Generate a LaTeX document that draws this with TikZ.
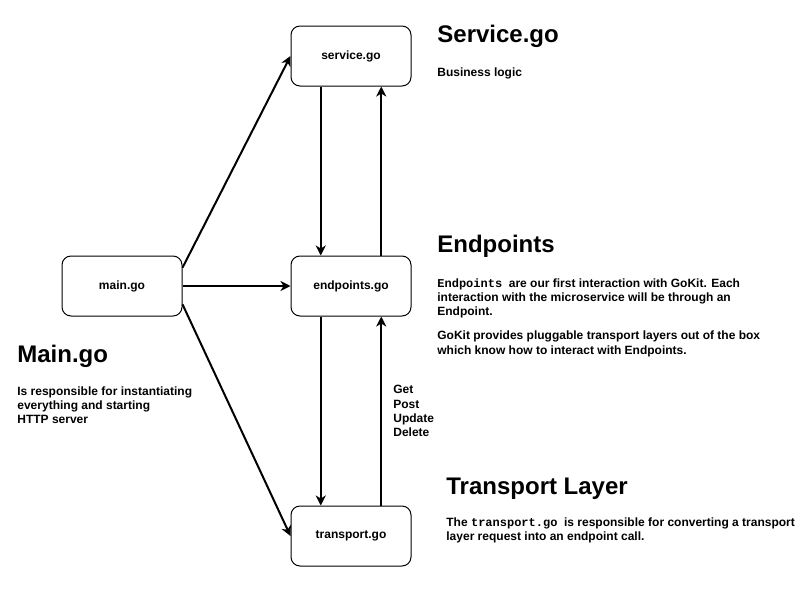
\documentclass[tikz,border=0pt]{standalone}
\usepackage{fontspec}
\setmainfont{Liberation Sans}
\setmonofont{Liberation Mono}
\usepackage{tikz}
\usetikzlibrary{arrows.meta,calc}
\newcommand{\bodyfont}{\fontsize{6}{7.2}\selectfont\bfseries}
\newcommand{\headfont}{\fontsize{12}{14.4}\selectfont\bfseries}

\begin{document}
\begin{tikzpicture}[
  x=0.5pt, y=-0.5pt,
  font=\bodyfont,
  gobox/.style={draw, rectangle, rounded corners=4.5pt, minimum width=60pt, minimum height=30pt, line width=0.5pt, align=center},
  heading/.style={anchor=base west, inner sep=0pt, font=\headfont},
  note/.style={anchor=north west, inner sep=0pt, align=left, font=\bodyfont},
  >={Stealth[length=5pt, width=5pt, inset=1.5pt]},
  arrline/.style={->, line width=1pt},
]
\useasboundingbox (0,0) rectangle (810,590);

% ============ Go files ============
\node[gobox] (service) at (351,56) {service.go};
\node[gobox] (main) at (122,286) {main.go};
\node[gobox] (endpoints) at (351,286) {endpoints.go};
\node[gobox] (transport) at (351,536) {transport.go};

% ============ Descriptions ============
\node[heading] (servicehead) at (437,42) {Service.go};
\node[note] (servicenote) at (437,67) {Business logic};

\node[heading] (endpointshead) at (437,252) {Endpoints};
\node[note] (endpointsnote) at (437,278) {\texttt{Endpoints}\ \ are our first interaction with GoKit. Each\\
  interaction with the microservice will be through an\\
  Endpoint.\\[4.8pt]
  GoKit provides pluggable transport layers out of the box\\
  which know how to interact with Endpoints.};

\node[heading] (mainhead) at (17,362) {Main.go};
\node[note] (mainnote) at (17,386) {Is responsible for instantiating\\everything and starting\\HTTP server};

\node[heading] (transporthead) at (446,494) {Transport Layer};
\node[note] (transportnote) at (446,517) {The \texttt{transport.go}\ \ is responsible for converting a transport\\
  layer request into an endpoint call.};

% ============ Arrows ============
% main.go fans out to the three layers
\draw[arrline] ($(main.north east)!0.2!(main.south east)$) -- (service.west);
\draw[arrline] (main.east) -- (endpoints.west);
\draw[arrline] ($(main.north east)!0.8!(main.south east)$) -- (transport.west);

% service.go <-> endpoints.go
\draw[arrline] ($(service.south)!0.5!(service.south west)$) -- ($(endpoints.north)!0.5!(endpoints.north west)$);
\draw[arrline] ($(endpoints.north)!0.5!(endpoints.north east)$) -- ($(service.south)!0.5!(service.south east)$);

% endpoints.go <-> transport.go
\draw[arrline] ($(endpoints.south)!0.5!(endpoints.south west)$) -- ($(transport.north)!0.5!(transport.north west)$);
\draw[arrline] ($(transport.north)!0.5!(transport.north east)$) -- ($(endpoints.south)!0.5!(endpoints.south east)$);
\node[note] (verbs) at (393,385) {Get\\Post\\Update\\Delete};

\end{tikzpicture}
\end{document}
